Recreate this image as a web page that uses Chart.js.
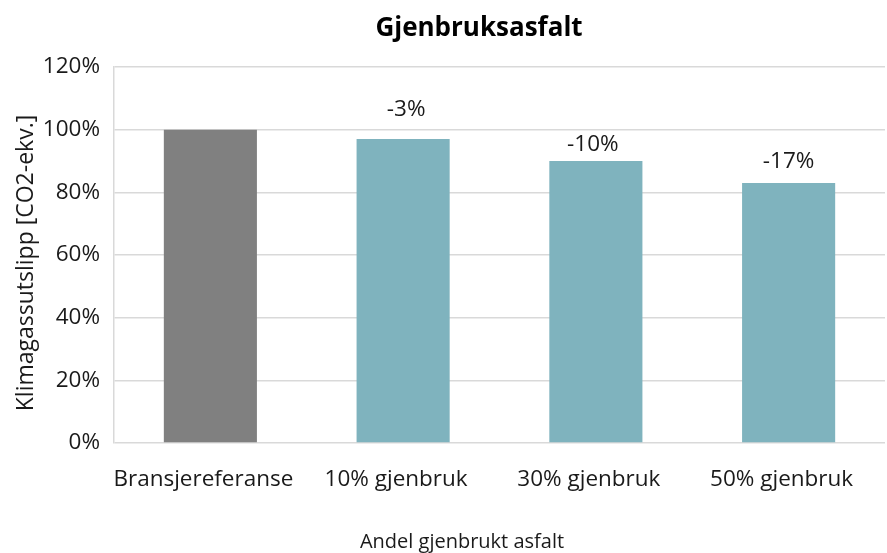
<!DOCTYPE html>
<html>
<head>
<meta charset="utf-8">
<script src="https://cdn.jsdelivr.net/npm/chart.js@4"></script>
<style>
  html, body { margin: 0; padding: 0; background: #fff; }
  #wrap { width: 887px; height: 553px; position: relative; }
</style>
</head>
<body>
<div id="wrap"><canvas id="chart"></canvas></div>
<script>
// Data
const categories = ['Bransjereferanse', '10% gjenbruk', '30% gjenbruk', '50% gjenbruk'];
const utslipp = [100, 97, 90, 83];
const endring = ['', '-3%', '-10%', '-17%'];
const barColors = ['#808080', '#7fb3be', '#7fb3be', '#7fb3be'];

const FONT = "'Open Sans', sans-serif";
const TEXT = '#1a1a1a';

// Etikettene står ikke helt likt over stolpene i originalen (dx, avstand over stolpe)
const labelNudge = [[0, 0], [3, 23], [-3, 10], [0, 15]];

// Tittel, aksetitler og tekst over stolpene
const chartText = {
    id: 'chartText',
    afterDraw(chart) {
        const ctx = chart.ctx;
        const area = chart.chartArea;
        const meta = chart.getDatasetMeta(0);
        ctx.save();
        ctx.textAlign = 'center';
        ctx.textBaseline = 'alphabetic';

        ctx.fillStyle = '#000';
        ctx.font = 'bold 26px ' + FONT;
        ctx.fillText('Gjenbruksasfalt', 479, 36);

        ctx.fillStyle = TEXT;
        ctx.font = '22.5px ' + FONT;
        meta.data.forEach((bar, i) => {
            if (endring[i]) ctx.fillText(endring[i], bar.x + labelNudge[i][0], bar.y - labelNudge[i][1]);
        });

        ctx.font = '20px ' + FONT;
        ctx.fillText('Andel gjenbrukt asfalt', 462, 548);

        ctx.font = '23px ' + FONT;
        ctx.textBaseline = 'middle';
        ctx.translate(26.5, (area.top + area.bottom) / 2 + 8);
        ctx.rotate(-Math.PI / 2);
        ctx.fillText('Klimagassutslipp [CO2-ekv.]', 0, 0);
        ctx.restore();
    }
};

new Chart(document.getElementById('chart'), {
    type: 'bar',
    data: {
        labels: categories,
        datasets: [{
            data: utslipp,
            backgroundColor: barColors,
            borderWidth: 0,
            categoryPercentage: 1,
            barPercentage: 0.483
        }]
    },
    options: {
        responsive: true,
        maintainAspectRatio: false,
        animation: false,
        layout: { padding: { left: 0, right: 2, top: 67, bottom: 0 } },
        plugins: {
            legend: { display: false },
            tooltip: { enabled: false },
            title: { display: false }
        },
        scales: {
            y: {
                min: 0,
                max: 120,
                afterFit: s => { s.width = 114; },
                ticks: {
                    stepSize: 20,
                    color: TEXT,
                    padding: 14,
                    font: { family: FONT, size: 22.5 },
                    callback: v => v + '%'
                },
                grid: { color: '#d9d9d9', lineWidth: 1.5, drawTicks: false },
                border: { display: true, color: '#d9d9d9', width: 1.5 }
            },
            x: {
                afterFit: s => { s.height = 110; },
                ticks: {
                    color: TEXT,
                    padding: 23,
                    labelOffset: -7,
                    maxRotation: 0,
                    font: { family: FONT, size: 22.5 }
                },
                grid: { display: false, drawTicks: false },
                border: { display: false }
            }
        }
    },
    plugins: [chartText]
});
</script>
</body>
</html>
